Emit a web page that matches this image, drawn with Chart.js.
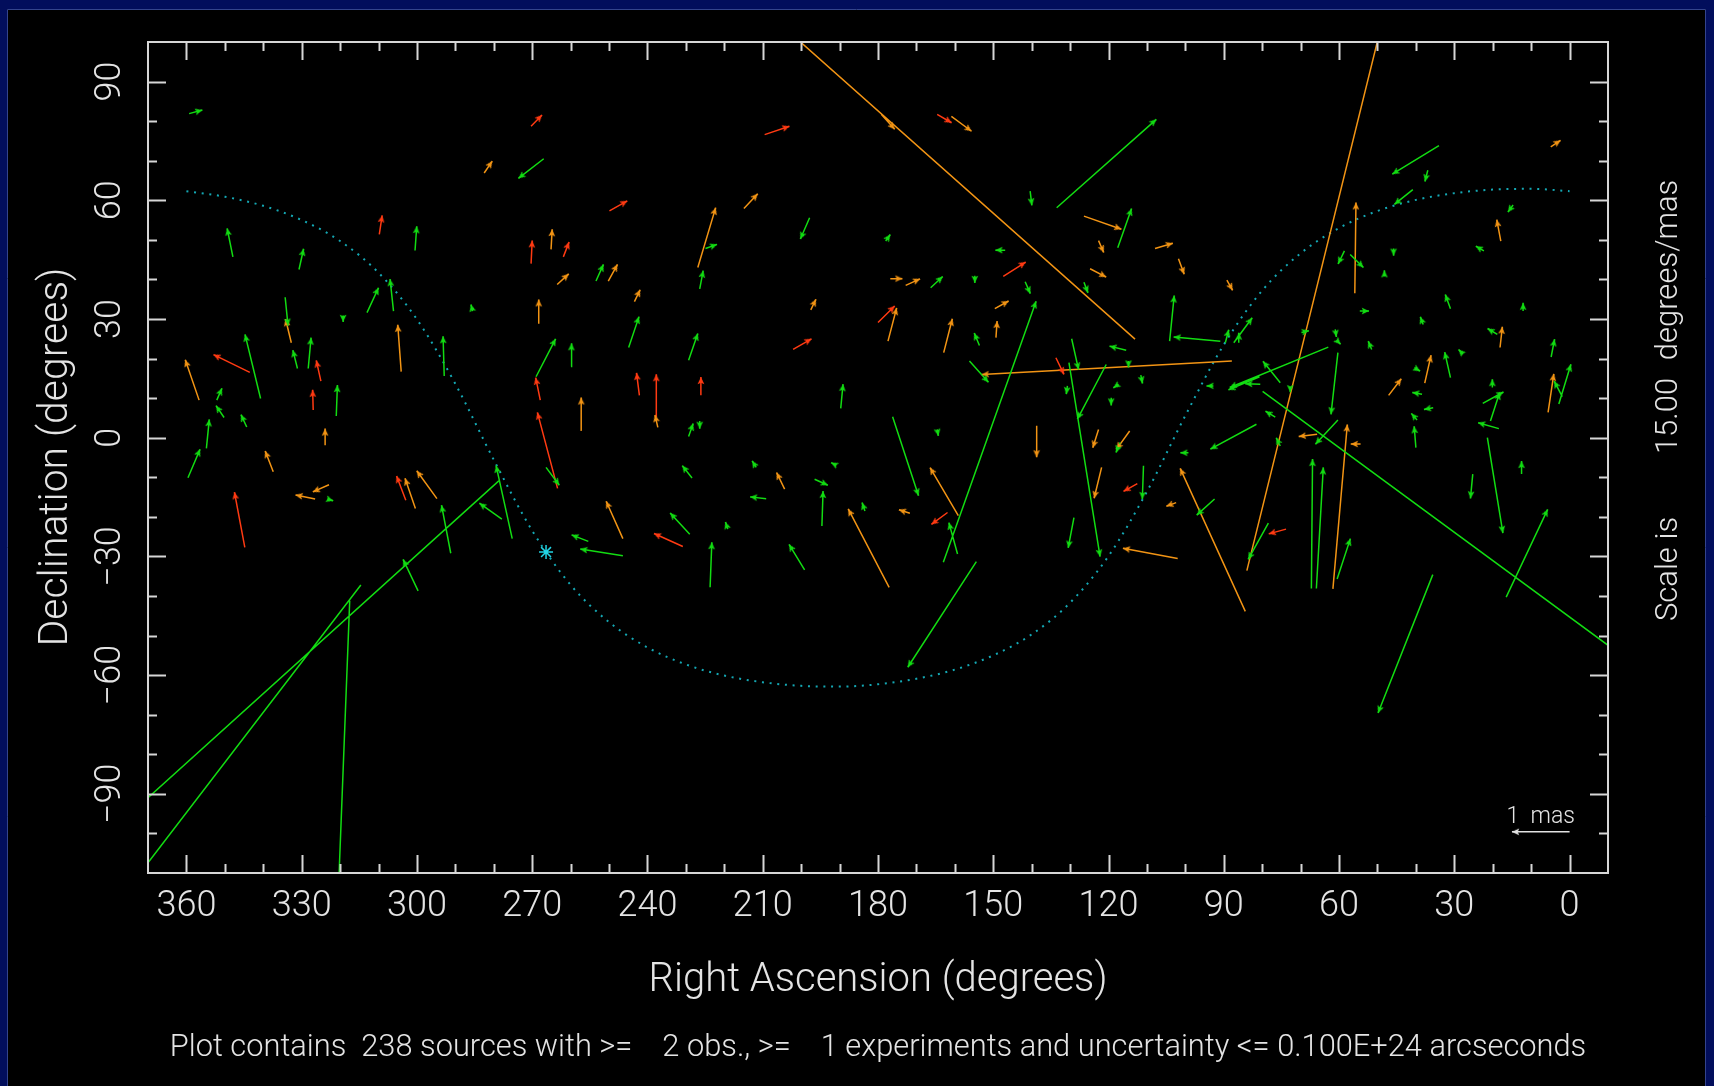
<!DOCTYPE html>
<html>
<head>
<meta charset="utf-8">
<script src="https://cdn.jsdelivr.net/npm/chart.js@4.4.1/dist/chart.umd.min.js"></script>
<style>
  html, body { margin: 0; padding: 0; background: #020e5c; overflow: hidden; }
  #c { position: absolute; left: 0; top: 0; }
</style>
</head>
<body>
<canvas id="c" width="1714" height="1086"></canvas>
<script>
// Axis layout (degrees)
const raRange = [-10, 370];
const decRange = [-110, 100];
const xTicks = [360, 330, 300, 270, 240, 210, 180, 150, 120, 90, 60, 30, 0];
const yTicks = [90, 60, 30, 0, -30, -60, -90];
const degPerMas = 15;

// Galactic plane
const galPlaneRa = [360, 350, 340, 330, 320, 310, 300, 290, 280, 270, 260, 250, 240, 230, 220, 210, 200, 190,
  180, 170, 160, 150, 140, 130, 120, 110, 100, 90, 80, 70, 60, 50, 40, 30, 20, 10, 0];
const galPlaneDec = [62.3, 60.9, 58.6, 55.0, 49.7, 41.7, 29.9, 13.6, -5.6, -23.5, -37.2, -46.6, -53.0, -57.3, -60.1, -61.8, -62.7, -62.9,
  -62.3, -60.9, -58.6, -55.0, -49.7, -41.7, -29.9, -13.6, 5.6, 23.5, 37.2, 46.6, 53.0, 57.3, 60.1, 61.8, 62.7, 62.9, 62.3];
const galCenter = [266.4, -28.9];

// Sources: [RA deg, Dec deg, dRA mas, dDec mas]
const greenSources = [
  [359.3, 81.9, -0.23, 0.06], [300.5, 47.3, -0.03, 0.41], [347.9, 45.7, 0.10, 0.48], [330.7, 42.5, -0.08, 0.35],
  [313.0, 31.6, -0.20, 0.42], [306.1, 32.0, 0.06, 0.54], [285.5, 32.0, 0.03, 0.11], [334.3, 35.5, -0.05, -0.48],
  [319.2, 30.9, 0, -0.11], [292.9, 15.6, 0.02, 0.67], [340.7, 9.9, 0.27, 1.08], [331.1, 17.5, 0.08, 0.31],
  [328.3, 17.5, -0.05, 0.52], [321.0, 5.5, -0.02, 0.52], [352.1, 9.5, -0.09, 0.20], [350.2, 5.1, 0.14, 0.20],
  [344.3, 2.7, 0.10, 0.21], [354.8, -2.7, -0.05, 0.49], [359.6, -10.1, -0.21, 0.48],
  [323.3, -15.5, -0.10, -0.03], [291.2, -29.2, 0.16, 0.81], [299.7, -38.7, 0.26, 0.53], [277.9, -20.6, 0.39, 0.27],
  [275.2, -25.5, 0.28, 1.23], [278.7, -10.9, 7.32, -6.42], [314.6, -37.2, 4.45, -5.64], [317.5, -41.2, 0.22, -5.49],
  [267.0, 70.5, 0.44, -0.33], [224.9, 47.8, -0.20, 0.07], [197.8, 55.6, 0.16, -0.36], [253.4, 39.6, -0.13, 0.28],
  [226.4, 37.6, -0.06, 0.31], [244.9, 22.8, -0.18, 0.52], [269.0, 15.4, -0.34, 0.64], [259.9, 18.0, -0.01, 0.39],
  [229.3, 19.6, -0.16, 0.45], [189.7, 7.4, -0.04, 0.41], [229.3, 0.3, -0.08, 0.22], [226.4, 4.2, 0, -0.13],
  [266.4, -7.5, -0.23, -0.30],
  [211.7, -7.5, 0.07, 0.11], [191.0, -6.9, 0.08, 0.04], [228.4, -10.2, 0.17, 0.21], [196.5, -10.5, -0.23, -0.10],
  [209.1, -15.4, 0.28, 0.03], [194.6, -22.3, -0.02, 0.59], [255.4, -26.2, 0.29, 0.11], [246.4, -29.8, 0.74, 0.11],
  [229.0, -24.4, 0.34, 0.36], [223.7, -37.8, -0.03, 0.76], [219.1, -23.1, 0.04, 0.12], [199.1, -33.4, 0.27, 0.43],
  [183.4, -18.5, 0.05, 0.14],
  [133.5, 58.1, -1.73, 1.49], [140.4, 62.3, -0.03, -0.24], [117.6, 48.0, -0.24, 0.66], [178.0, 49.7, -0.08, 0.11],
  [146.9, 47.4, 0.17, 0], [166.3, 37.9, -0.21, 0.19], [154.8, 40.9, 0, -0.12], [141.7, 39.4, -0.09, -0.20],
  [126.4, 39.3, -0.07, -0.18], [153.6, 23.3, 0.09, 0.21], [163.0, -31.5, -1.61, 4.40], [156.2, 19.4, -0.33, -0.36],
  [129.6, 25.0, -0.12, -0.52], [130.3, 19.0, -0.54, -3.27], [120.6, 18.5, 0.50, -0.92], [115.4, 22.1, 0.29, 0.07],
  [114.8, 19.4, 0, -0.11], [111.6, 15.8, -0.03, -0.14], [117.4, 13.5, 0.09, -0.06], [119.3, 10.1, 0, -0.13],
  [130.7, 13.1, 0.02, -0.14], [90.9, 24.4, 0.81, 0.07], [104.1, 24.4, -0.08, 0.77], [89.6, 24.0, -0.06, 0.22],
  [86.1, 24.0, 0, 0.17], [87.4, 24.0, -0.32, 0.42], [80.7, 15.4, 0.54, -0.22], [81.5, 3.4, 0.80, -0.42],
  [92.7, 13.1, 0.12, 0], [99.2, -3.8, 0.14, 0], [117.0, -1.2, 0.07, -0.17], [164.6, 2.1, -0.02, -0.11],
  [176.2, 5.3, -0.45, -1.33],
  [159.3, -29.4, 0.15, 0.53], [154.4, -31.3, 1.19, -1.78], [129.0, -20.2, 0.10, -0.51], [110.9, -7.1, 0.02, -0.56],
  [92.4, -15.5, 0.31, -0.27], [78.4, -21.6, 0.35, -0.61],
  [67.2, -38.1, -0.02, 2.18], [65.9, -38.1, -0.12, 2.04], [60.5, -35.7, -0.23, 0.68], [35.6, -34.6, 0.95, -2.33],
  [16.5, -40.3, -0.72, 1.48], [79.9, 11.7, -6.91, -4.93], [25.2, -9.2, 0.04, -0.41], [21.4, 0.05, -0.27, -1.61],
  [12.5, -9.2, 0, 0.22],
  [34.0, 73.8, 0.81, -0.48], [36.9, 67.6, 0.05, -0.19], [40.8, 62.7, 0.32, -0.25], [14.7, 58.8, 0.09, -0.12],
  [58.6, 47.2, 0.11, -0.22], [57.1, 46.3, -0.23, -0.22], [45.8, 47.8, 0, -0.12], [48.2, 40.8, 0, 0.10],
  [22.3, 47.2, 0.14, 0.08], [31.0, 32.6, 0.09, 0.24], [12.1, 32.0, 0, 0.14], [54.6, 32.0, -0.16, 0],
  [38.1, 28.6, 0.05, 0.13], [18.8, 26.1, 0.17, 0.10], [69.8, 26.6, -0.13, 0.03], [61.0, 27.4, -0.02, -0.13],
  [60.5, 24.5, -0.06, -0.06], [51.5, 22.3, 0.06, 0.14], [60.3, 21.5, 0.12, -1.04], [62.8, 22.9, 1.71, -0.68],
  [75.3, 13.9, 0.30, 0.36], [80.5, 13.5, 0.26, 0.01], [72.7, 12.7, 0, -0.08], [76.6, 5.2, 0.17, 0.10],
  [60.3, 4.5, 0.39, -0.41], [75.3, -2.1, 0.07, 0.14], [38.4, 11.0, 0.17, 0.03], [35.5, 7.6, 0.16, -0.03],
  [31.0, 15.2, 0.10, 0.43], [40.4, 17.7, -0.10, -0.06], [27.7, 21.1, 0.08, 0.08], [39.7, 4.5, 0.10, 0.11],
  [40.0, -2.5, 0.03, 0.36], [20.1, 12.7, 0, 0.14], [20.6, 4.2, -0.16, 0.48], [22.6, 8.7, -0.36, 0.19],
  [18.4, 2.3, 0.36, 0.10], [2.8, 8.5, -0.21, 0.67], [1.9, 10.4, 0.14, 0.26], [4.8, 20.4, -0.06, 0.30]
];

const orangeSources = [
  [282.5, 66.9, -0.14, 0.20], [332.7, 24.0, 0.10, 0.40], [304.1, 16.7, 0.06, 0.79], [356.7, 9.5, 0.24, 0.68],
  [323.9, -1.9, 0, 0.28], [337.4, -8.6, 0.14, 0.35], [322.9, -11.9, 0.28, -0.12], [326.5, -15.5, 0.34, 0.07],
  [300.4, -17.9, 0.18, 0.51], [294.8, -15.4, 0.35, 0.47],
  [226.9, 43.0, -0.31, 1.01], [214.9, 57.9, -0.24, 0.25], [265.1, 47.6, -0.02, 0.34], [263.5, 38.7, -0.20, 0.18],
  [250.2, 39.6, -0.16, 0.28], [243.4, 34.4, -0.10, 0.20], [268.3, 28.8, 0, 0.41], [197.5, 32.3, -0.09, 0.18],
  [177.4, 24.4, -0.15, 0.56], [257.1, 1.9, 0.01, 0.55], [237.3, 2.6, 0.05, 0.21],
  [204.3, -13.0, 0.14, 0.28], [246.4, -25.5, 0.29, 0.63], [177.1, -37.8, 0.71, 1.32],
  [113.1, 24.9, 6.69, 5.77], [179.1, 81.7, -0.23, -0.25], [160.9, 81.2, -0.35, -0.25], [126.4, 56.0, -0.65, -0.22],
  [122.6, 49.8, -0.09, -0.20], [107.9, 47.8, -0.31, 0.09], [101.8, 45.2, -0.10, -0.26], [89.2, 39.8, -0.10, -0.17],
  [176.8, 40.2, -0.21, 0], [172.8, 38.5, -0.25, 0.11], [124.8, 42.7, -0.28, -0.14], [149.6, 32.6, -0.24, 0.13],
  [149.3, 25.3, -0.02, 0.28], [162.9, 21.5, -0.15, 0.57], [87.9, 19.4, 4.34, -0.23], [122.6, 2.1, 0.10, -0.31],
  [114.5, 1.7, 0.23, -0.31], [138.7, 3.0, 0, -0.53],
  [159.1, -19.7, 0.49, 0.81], [171.7, -19.1, 0.19, 0.06], [121.8, -7.5, 0.13, -0.52], [102.4, -16.4, 0.17, -0.06],
  [102.0, -30.5, 0.95, 0.17], [84.4, -43.9, 1.13, 2.41], [84.0, -33.6, -2.49, 9.80], [61.6, -38.2, -0.25, 2.77],
  [4.9, 73.5, -0.17, 0.11], [17.9, 49.7, 0.07, 0.36], [55.9, 36.5, -0.02, 1.53], [18.1, 22.8, -0.04, 0.35],
  [65.7, 0.9, 0.32, -0.04], [54.4, -1.6, 0.17, 0], [37.7, 13.8, -0.11, 0.47], [47.1, 10.7, -0.22, 0.28],
  [5.6, 6.4, -0.10, 0.65]
];

const redSources = [
  [309.8, 51.4, -0.05, 0.32], [343.5, 16.5, 0.63, 0.30], [325.0, 14.3, 0.08, 0.35], [327.0, 7.0, 0.01, 0.34],
  [344.8, -27.7, 0.18, 0.93], [302.9, -15.8, 0.16, 0.41],
  [270.3, 78.7, -0.19, 0.19], [209.5, 76.6, -0.43, 0.14], [249.9, 57.3, -0.31, 0.17], [270.3, 44.0, -0.02, 0.39],
  [261.9, 45.7, -0.10, 0.25], [202.1, 22.3, -0.32, 0.18], [180.0, 29.1, -0.29, 0.28], [267.9, 9.5, 0.08, 0.38],
  [242.1, 10.7, 0.05, 0.38], [237.7, 5.1, 0, 0.73], [226.1, 10.7, 0, 0.31], [263.4, -12.8, 0.35, 1.28],
  [230.8, -27.5, 0.50, 0.22], [164.6, 81.7, -0.25, -0.14], [147.4, 40.8, -0.39, 0.24], [133.7, 20.2, -0.14, -0.28],
  [161.9, -18.9, 0.28, -0.20], [112.5, -11.6, 0.24, -0.13], [73.8, -23.1, 0.30, -0.08]
];

// "1 mas" scale key arrow
const scaleKey = [[0, -99.6, 1, 0]];

const colors = {
  green: '#12dc12',
  orange: '#f29414',
  red: '#ff3a12',
  cyan: '#14a8b4',
  white: '#e2e2e2'
};

// Arrowhead bitmap with its tip in the centre, pointing up
function headImage(color) {
  const c = document.createElement('canvas');
  c.width = 18; c.height = 18;
  const g = c.getContext('2d');
  g.fillStyle = color;
  g.beginPath();
  g.moveTo(9, 9);
  g.lineTo(5.6, 16.2);
  g.lineTo(9, 14.8);
  g.lineTo(12.4, 16.2);
  g.closePath();
  g.fill();
  return c;
}

function shaftPoints(rows) {
  const pts = [];
  rows.forEach(([ra, dec, dRa, dDec]) => {
    pts.push({ x: ra, y: dec });
    pts.push({ x: ra + dRa * degPerMas, y: dec + dDec * degPerMas });
    pts.push({ x: ra, y: null });
  });
  return pts;
}

function headPoints(rows) {
  return rows.map(([ra, dec, dRa, dDec]) => ({
    x: ra + dRa * degPerMas, y: dec + dDec * degPerMas, tx: ra, ty: dec
  }));
}

// rotate each head along its arrow, measured in pixels
function headAngle(ctx) {
  const p = ctx.raw;
  if (!p || p.tx === undefined) return 0;
  const sx = ctx.chart.scales.x, sy = ctx.chart.scales.y;
  const dx = sx.getPixelForValue(p.x) - sx.getPixelForValue(p.tx);
  const dy = sy.getPixelForValue(p.y) - sy.getPixelForValue(p.ty);
  return Math.atan2(dx, -dy) * 180 / Math.PI;
}

function arrowDatasets(rows, color, width) {
  return [
    {
      data: shaftPoints(rows),
      showLine: true,
      spanGaps: false,
      borderColor: color,
      borderWidth: width,
      pointRadius: 0,
      order: 5
    },
    {
      data: headPoints(rows),
      pointStyle: headImage(color),
      pointRadius: 5,
      pointRotation: headAngle,
      order: 4
    }
  ];
}

const datasets = [
  {
    data: galPlaneRa.map((ra, i) => ({ x: ra, y: galPlaneDec[i] })),
    showLine: true,
    borderColor: colors.cyan,
    borderWidth: 2,
    borderDash: [2, 5.7],
    cubicInterpolationMode: 'monotone',
    pointRadius: 0,
    order: 10
  },
  {
    data: [{ x: galCenter[0], y: galCenter[1] }],
    pointStyle: 'star',
    pointRadius: 7,
    borderColor: '#22d4e4',
    borderWidth: 1.5,
    order: 9
  },
  ...arrowDatasets(greenSources, colors.green, 1.5),
  ...arrowDatasets(orangeSources, colors.orange, 1.5),
  ...arrowDatasets(redSources, colors.red, 1.5),
  ...arrowDatasets(scaleKey, colors.white, 1.5)
];

const textColor = '#e4e4e4';
const fontFamily = '"Roboto", "Open Sans", "DejaVu Sans", sans-serif';

function rotatedText(g, text, x, y) {
  g.save();
  g.translate(x, y);
  g.rotate(-Math.PI / 2);
  g.fillText(text, 0, 0);
  g.restore();
}

function fitFont(g, text, width) {
  g.font = `300 100px ${fontFamily}`;
  const size = 100 * width / g.measureText(text).width;
  g.font = `300 ${size.toFixed(1)}px ${fontFamily}`;
}

// PGPLOT-style box: black page, frame, inward ticks and all the texts
const pgplotBox = {
  id: 'pgplotBox',
  beforeDraw(chart) {
    const g = chart.ctx;
    g.save();
    g.fillStyle = '#000';
    g.fillRect(7, 9, 1699, 1077);
    g.strokeStyle = '#34448c';
    g.lineWidth = 1;
    g.beginPath();
    g.moveTo(7.5, 1086); g.lineTo(7.5, 9.5); g.lineTo(1705.5, 9.5); g.lineTo(1705.5, 1086);
    g.stroke();
    g.restore();
  },
  afterDraw(chart) {
    const g = chart.ctx;
    const a = chart.chartArea;
    const sx = chart.scales.x, sy = chart.scales.y;
    g.save();
    g.strokeStyle = '#d6d6d6';
    g.lineWidth = 2;
    g.strokeRect(a.left, a.top, a.right - a.left, a.bottom - a.top);

    g.beginPath();
    for (let v = 0; v <= 360; v += 10) {
      const x = Math.round(sx.getPixelForValue(v)) + 0.5;
      const len = v % 30 === 0 ? 18 : 9;
      g.moveTo(x, a.top); g.lineTo(x, a.top + len);
      g.moveTo(x, a.bottom); g.lineTo(x, a.bottom - len);
    }
    for (let v = -100; v <= 90; v += 10) {
      const y = Math.round(sy.getPixelForValue(v)) + 0.5;
      const len = v % 30 === 0 ? 18 : 9;
      g.moveTo(a.left, y); g.lineTo(a.left + len, y);
      g.moveTo(a.right, y); g.lineTo(a.right - len, y);
    }
    g.stroke();

    g.fillStyle = textColor;
    g.textAlign = 'center';
    g.textBaseline = 'middle';
    g.font = `300 36px ${fontFamily}`;
    xTicks.forEach(v => g.fillText(String(v), sx.getPixelForValue(v), 907));
    yTicks.forEach(v => rotatedText(g, v < 0 ? '\u2212' + (-v) : String(v), 111, sy.getPixelForValue(v)));

    fitFont(g, 'Right Ascension (degrees)', 459);
    g.fillText('Right Ascension (degrees)', 878, 981);

    g.save();
    fitFont(g, 'Declination (degrees)', 379);
    rotatedText(g, 'Declination (degrees)', 57, 457);
    g.restore();

    g.font = `300 31px ${fontFamily}`;
    rotatedText(g, 'Scale is', 1669, 569);
    rotatedText(g, '15.00', 1669, 416);
    rotatedText(g, 'degrees/mas', 1669, 270);

    const caption = 'Plot contains  238 sources with >=    2 obs., >=    1 experiments and uncertainty <= 0.100E+24 arcseconds';
    fitFont(g, caption, 1418);
    g.fillText(caption, 878, 1048);

    g.font = `300 23px ${fontFamily}`;
    g.fillText('1  mas', sx.getPixelForValue(7.5), 817);
    g.restore();
  }
};

new Chart(document.getElementById('c'), {
  type: 'scatter',
  data: { datasets },
  options: {
    responsive: false,
    animation: false,
    events: [],
    layout: { padding: { left: 148, top: 42, right: 106, bottom: 213 } },
    scales: {
      x: { type: 'linear', min: raRange[0], max: raRange[1], reverse: true, display: false },
      y: { type: 'linear', min: decRange[0], max: decRange[1], display: false }
    },
    plugins: {
      legend: { display: false },
      tooltip: { enabled: false }
    }
  },
  plugins: [pgplotBox]
});
</script>
</body>
</html>
